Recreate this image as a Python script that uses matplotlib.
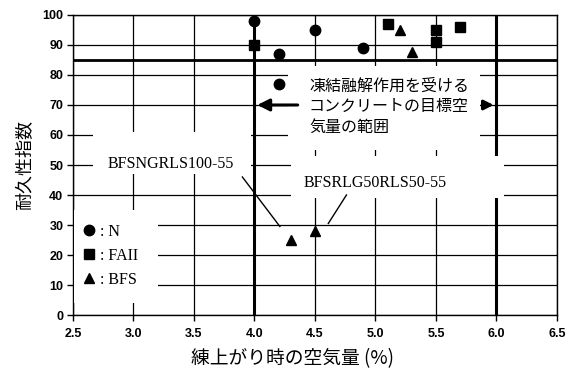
import matplotlib
matplotlib.use("Agg")
import matplotlib.pyplot as plt
from matplotlib.patches import Rectangle

# Data
n_x = [4.0, 4.2, 4.2, 4.5, 4.9]
n_y = [98, 87, 77, 95, 89]
fa_x = [4.0, 5.1, 5.5, 5.5, 5.7]
fa_y = [90, 97, 95, 91, 96]
bfs_x = [5.2, 5.3, 4.3, 4.5]
bfs_y = [95, 87.5, 25, 28]
x_ticks = [2.5, 3.0, 3.5, 4.0, 4.5, 5.0, 5.5, 6.0, 6.5]
y_ticks = [0, 10, 20, 30, 40, 50, 60, 70, 80, 90, 100]
target_range = [4.0, 6.0]
target_index = 85

JP = ['Noto Sans CJK JP', 'DejaVu Sans']
SERIF = ['Liberation Serif', 'DejaVu Serif']
SANS = ['Liberation Sans', 'DejaVu Sans']

fig = plt.figure(figsize=(5.73, 3.72), dpi=100)
ax = fig.add_axes([0.1274, 0.1532, 0.8446, 0.8065])
ax.set_xlim(2.5, 6.5)
ax.set_ylim(0, 100)
ax.set_xticks(x_ticks)
ax.set_yticks(y_ticks)
ax.set_xticklabels([f"{v:.1f}" for v in x_ticks], fontsize=9, fontweight='bold', family=SANS)
ax.set_yticklabels([str(v) for v in y_ticks], fontsize=9, fontweight='bold', family=SANS)
ax.tick_params(direction='out', length=4, width=1, color='black', pad=3)
ax.tick_params(axis='x', pad=5)
ax.grid(True, color='black', linewidth=0.9, zorder=1)
ax.set_axisbelow(True)
for s in ax.spines.values():
    s.set_linewidth(1.0)

# thick reference lines
for xv in target_range:
    ax.axvline(xv, color='black', linewidth=2.2, zorder=2)
ax.axhline(target_index, color='black', linewidth=2.0, zorder=2)

# white boxes masking grid
def wbox(x0, y0, x1, y1):
    ax.add_patch(Rectangle((x0, y0), x1 - x0, y1 - y0, facecolor='white',
                           edgecolor='none', zorder=3))

wbox(4.28, 55, 5.86, 83)
wbox(2.665, 47, 3.97, 61)
wbox(4.3, 39, 6.06, 53)
wbox(2.51, 4, 3.2, 35)

# arrows
ax.annotate('', xy=(target_range[0], 70), xytext=(4.38, 70),
            arrowprops=dict(arrowstyle='-|>', color='black', lw=2.2,
                            mutation_scale=18), zorder=4)
ax.annotate('', xy=(target_range[1], 70), xytext=(5.86, 70),
            arrowprops=dict(arrowstyle='-|>', color='black', lw=2.2,
                            mutation_scale=14), zorder=4)
ax.text(4.45, 69.5, "凍結融解作用を受ける\nコンクリートの目標空\n気量の範囲", family=JP,
        fontsize=11.5, va='center', ha='left', linespacing=1.27, zorder=5)

# labels with leader lines
ax.text(2.79, 50.5, "BFSNGRLS100-55", family=SERIF, fontsize=11.5, va='center',
        ha='left', zorder=5)
ax.plot([3.9, 4.21], [46, 29.5], color='black', lw=1.0, zorder=4)
ax.text(5.0, 44, "BFSRLG50RLS50-55", family=SERIF, fontsize=11.5, va='center',
        ha='center', zorder=5)
ax.plot([4.76, 4.61], [40, 30.5], color='black', lw=1.0, zorder=4)

# markers
ax.plot(n_x, n_y, 'o', color='black', markersize=7.5, zorder=6, label=': N')
ax.plot(fa_x, fa_y, 's', color='black', markersize=7, zorder=6, label=': FAII')
ax.plot(bfs_x, bfs_y, '^', color='black', markersize=7.5, zorder=6, label=': BFS')

leg = ax.legend(loc='upper left', bbox_to_anchor=(0.0, 0.325), frameon=False,
                prop={'family': SERIF, 'size': 11.5}, handletextpad=0.1,
                handlelength=1.2, labelspacing=0.5, borderaxespad=0.2,
                borderpad=0.2)
leg.set_zorder(7)

ax.set_xlabel("練上がり時の空気量 (%)", family=JP, fontsize=13.5, labelpad=2)
ax.xaxis.set_label_coords(0.453, -0.11)
ax.set_ylabel("耐久性指数", family=JP, fontsize=13, labelpad=6)

fig.savefig("out.png", dpi=100)
